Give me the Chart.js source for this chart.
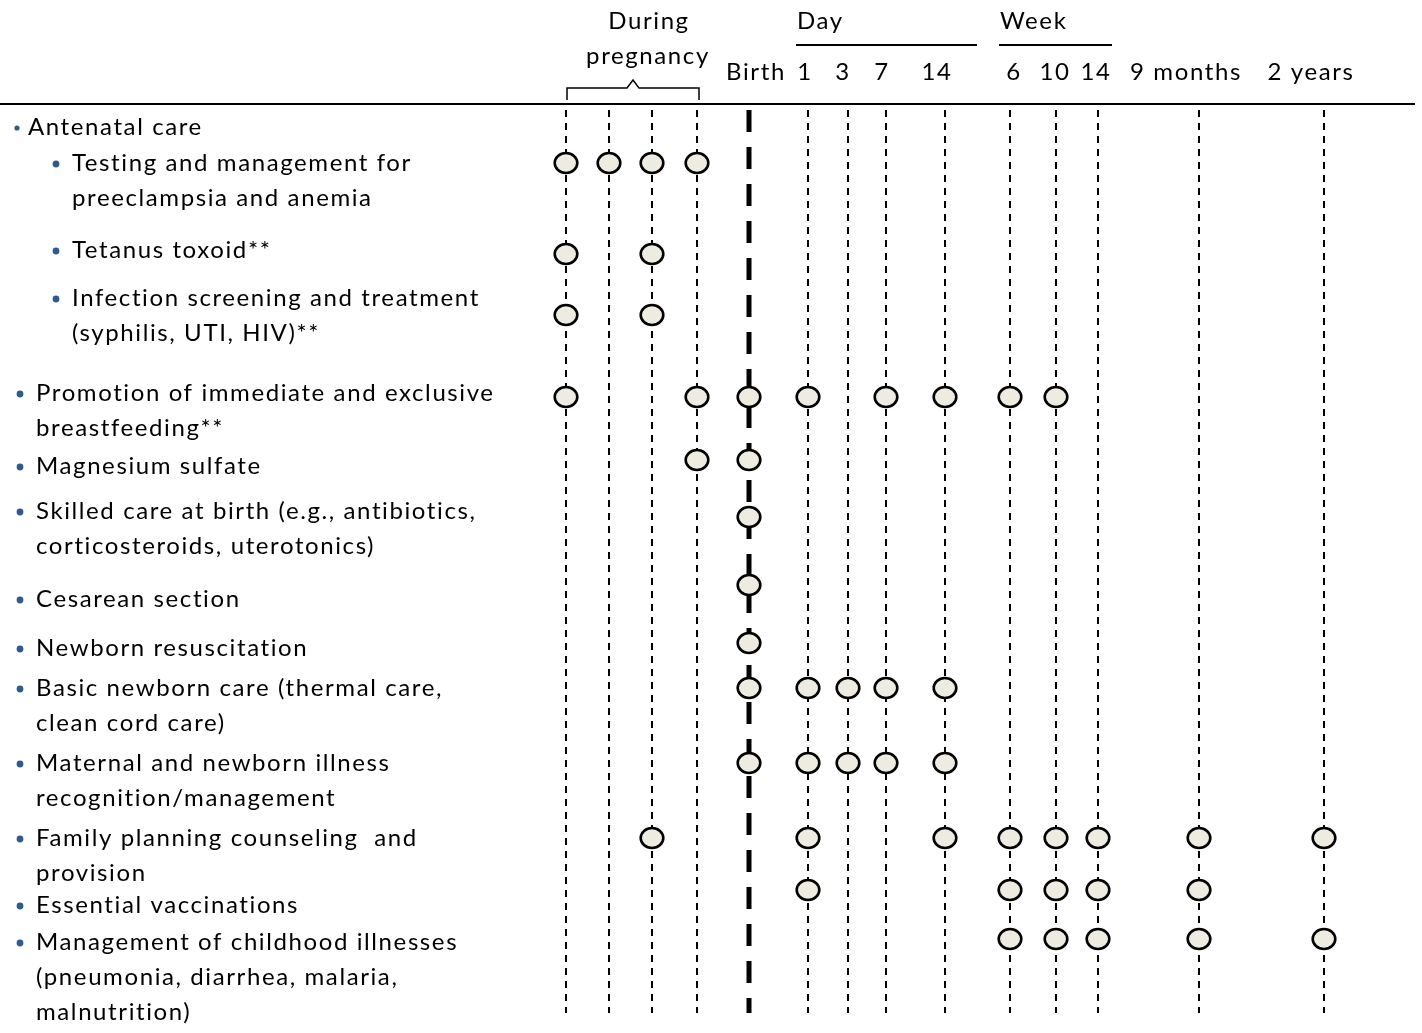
<!DOCTYPE html>
<html>
<head>
<meta charset="utf-8">
<script src="https://cdn.jsdelivr.net/npm/chart.js@4.4.1/dist/chart.umd.min.js"></script>
<style>
  html, body { margin: 0; padding: 0; background: #ffffff; }
  canvas { display: block; }
</style>
</head>
<body>
<canvas id="timeline" width="1422" height="1033"></canvas>
<script>
// Colonnes de la frise (4 visites prénatales, naissance, jours, semaines, mois, années)
const columnLabels = ['', '', '', '', 'Birth', '1', '3', '7', '14', '6', '10', '14', '9 months', '2 years'];
const columnPos = [566, 609, 652, 697, 749, 808, 848, 886, 945, 1010, 1056, 1098, 1199, 1324];
const columnLabelPos = [0, 0, 0, 0, 756, 805, 843, 882, 937, 1014, 1055, 1096, 1186, 1311];
const birthColumn = 4;

// Interventions et colonnes où elles sont délivrées
const serviceCols = [
  [0, 1, 2, 3],
  [0, 2],
  [0, 2],
  [0, 3, 4, 5, 7, 8, 9, 10],
  [3, 4],
  [4],
  [4],
  [4],
  [4, 5, 6, 7, 8],
  [4, 5, 6, 7, 8],
  [2, 5, 8, 9, 10, 11, 12, 13],
  [5, 9, 10, 11, 12],
  [9, 10, 11, 12, 13]
];
const serviceMarkY = [163, 254, 315, 397, 460, 517, 585, 643, 688, 763, 838, 890, 939];

// Libellés à gauche : texte, niveau de puce
const labelLines = [
  ['Antenatal care', 0],
  ['Testing and management for', 2],
  ['preeclampsia and anemia', -2],
  ['Tetanus toxoid**', 2],
  ['Infection screening and treatment', 2],
  ['(syphilis, UTI, HIV)**', -2],
  ['Promotion of immediate and exclusive', 1],
  ['breastfeeding**', -1],
  ['Magnesium sulfate', 1],
  ['Skilled care at birth (e.g., antibiotics,', 1],
  ['corticosteroids, uterotonics)', -1],
  ['Cesarean section', 1],
  ['Newborn resuscitation', 1],
  ['Basic newborn care (thermal care,', 1],
  ['clean cord care)', -1],
  ['Maternal and newborn illness', 1],
  ['recognition/management', -1],
  ['Family planning counseling  and', 1],
  ['provision', -1],
  ['Essential vaccinations', 1],
  ['Management of childhood illnesses', 1],
  ['(pneumonia, diarrhea, malaria,', -1],
  ['malnutrition)', -1]
];
const labelLineY = [127, 163, 198, 250, 298, 333, 393, 428, 466, 511, 546, 599, 648, 688, 723, 763, 798, 838, 873, 905, 942, 977, 1012];

const FONT = '24px Lato, "Open Sans", sans-serif';
const BULLET = '#2f5a8f';

// Point en forme d'ellipse
function makeEllipse() {
  const c = document.createElement('canvas');
  c.width = 28; c.height = 26;
  const ctx = c.getContext('2d');
  ctx.beginPath();
  ctx.ellipse(14, 13, 11.3, 10, 0, 0, Math.PI * 2);
  ctx.fillStyle = '#eeece1';
  ctx.fill();
  ctx.lineWidth = 2.6;
  ctx.strokeStyle = '#000000';
  ctx.stroke();
  return c;
}
const ellipse = makeEllipse();

const marks = [];
serviceCols.forEach((cols, i) => {
  cols.forEach(c => marks.push({ x: columnPos[c], y: serviceMarkY[i] }));
});

const datasets = [{
  data: marks,
  pointStyle: ellipse,
  pointRadius: 12,
  showLine: false,
  order: 0
}];

// Lignes verticales pointillées
columnPos.forEach((x, i) => {
  const birth = i === birthColumn;
  datasets.push({
    data: [{ x: x, y: 110 }, { x: x, y: 1013 }],
    showLine: true,
    pointRadius: 0,
    borderColor: '#000000',
    borderWidth: birth ? 5 : 2,
    borderDash: birth ? [22, 15] : [7, 6],
    borderCapStyle: 'butt',
    order: 2
  });
});

// Traits de l'en-tête
function rule(points, width) {
  datasets.push({
    data: points,
    showLine: true,
    pointRadius: 0,
    borderColor: '#000000',
    borderWidth: width,
    tension: 0,
    order: 1
  });
}
rule([{ x: 0, y: 104 }, { x: 1415, y: 104 }], 2);
rule([{ x: 796, y: 45 }, { x: 977, y: 45 }], 2);
rule([{ x: 999, y: 45 }, { x: 1112, y: 45 }], 2);
rule([{ x: 567, y: 100 }, { x: 567, y: 88 }, { x: 627, y: 88 }, { x: 633, y: 80 },
      { x: 639, y: 88 }, { x: 699, y: 88 }, { x: 699, y: 100 }], 1.5);

const textPlugin = {
  id: 'texts',
  afterDraw(chart) {
    const { ctx, scales: { x, y } } = chart;
    ctx.save();
    ctx.font = FONT;
    ctx.letterSpacing = '1.6px';
    ctx.fillStyle = '#000000';
    ctx.textBaseline = 'middle';

    // en-tête
    ctx.textAlign = 'center';
    ctx.fillText('During', x.getPixelForValue(649), y.getPixelForValue(21));
    ctx.fillText('pregnancy', x.getPixelForValue(648), y.getPixelForValue(56));
    columnLabels.forEach((lab, i) => {
      if (lab) ctx.fillText(lab, x.getPixelForValue(columnLabelPos[i]), y.getPixelForValue(72));
    });
    ctx.textAlign = 'left';
    ctx.fillText('Day', x.getPixelForValue(797), y.getPixelForValue(21));
    ctx.fillText('Week', x.getPixelForValue(1000), y.getPixelForValue(21));

    // libellés
    labelLines.forEach(([txt, lvl], i) => {
      const py = y.getPixelForValue(labelLineY[i]);
      const indent = Math.abs(lvl) === 2 ? 72 : (lvl === 0 ? 28 : 36);
      if (lvl >= 0) {
        ctx.beginPath();
        const bx = lvl === 2 ? 56 : (lvl === 0 ? 17 : 20);
        ctx.arc(x.getPixelForValue(bx), py + 1, lvl === 0 ? 2.6 : 3.4, 0, Math.PI * 2);
        ctx.fillStyle = BULLET;
        ctx.fill();
        ctx.fillStyle = '#000000';
      }
      ctx.fillText(txt, x.getPixelForValue(indent), py);
    });
    ctx.restore();
  }
};

new Chart(document.getElementById('timeline'), {
  type: 'scatter',
  data: { datasets: datasets },
  options: {
    responsive: false,
    animation: false,
    devicePixelRatio: 1,
    clip: false,
    layout: { padding: 0, autoPadding: false },
    plugins: { legend: { display: false }, tooltip: { enabled: false } },
    scales: {
      x: { type: 'linear', min: 0, max: 1422, display: false },
      y: { type: 'linear', min: 0, max: 1033, reverse: true, display: false }
    }
  },
  plugins: [textPlugin]
});
</script>
</body>
</html>
